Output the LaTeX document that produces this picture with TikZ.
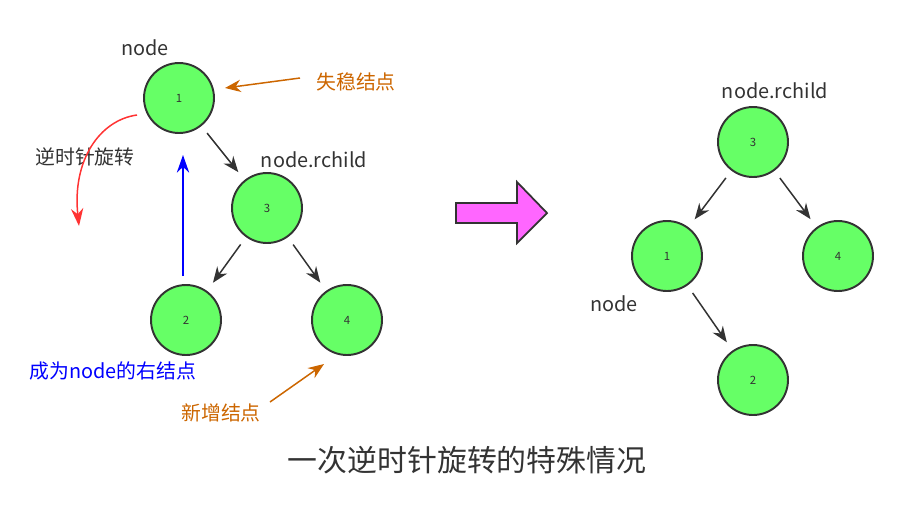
\documentclass[tikz,border=0pt]{standalone}
\usepackage{fontspec}
\setmainfont{Noto Sans CJK SC}
\usetikzlibrary{arrows.meta}
\definecolor{nodefill}{HTML}{66FF66}
\definecolor{darkline}{HTML}{333333}
\definecolor{noteorange}{HTML}{CC6600}
\definecolor{rotred}{HTML}{FF3333}
\definecolor{bigarrow}{HTML}{FF66FF}

\begin{document}
\begin{tikzpicture}[x=0.02cm, y=-0.02cm,
	treenode/.style={circle, draw=darkline, fill=nodefill, line width=1.1pt, minimum size=1.4cm, inner sep=0pt, text=darkline, font=\fontsize{6.5}{7}\selectfont},
	edge/.style={draw=darkline, line width=0.85pt, -{Stealth[length=9pt, width=7pt]}, shorten >=0.2cm, shorten <=0.18cm},
	note/.style={draw=noteorange, line width=0.85pt, -{Stealth[length=9pt, width=7pt]}},
	lbl/.style={text=darkline, font=\fontsize{11.3}{12}\selectfont, inner sep=0pt}]
	%%%%% START %%%%%
	\useasboundingbox (0, 0) rectangle (899, 525);

	% left tree
	\node[treenode] (l1) at (179, 98) {1};
	\node[treenode] (l3) at (267, 208) {3};
	\node[treenode] (l2) at (186, 320) {2};
	\node[treenode] (l4) at (347, 320) {4};
	\draw[edge] (l1) -- (l3);
	\draw[edge] (l3) -- (l2);
	\draw[edge] (l3) -- (l4);

	\node[lbl] (lnode) at (145, 48) {node};
	\node[lbl] (lrchild) at (314, 160) {node.rchild};

	% notes
	\node[lbl, text=noteorange] (unstable) at (356, 82) {失稳结点};
	\coordinate (unstabletail) at (300, 78);
	\draw[note] (unstabletail) -- (225, 88);

	\node[lbl, text=noteorange] (added) at (221, 413) {新增结点};
	\coordinate (addedtail) at (270, 402);
	\draw[note] (addedtail) -- (324, 364);

	\node[lbl, text=blue] (becomes) at (113, 371) {成为node的右结点};
	\coordinate (bluetail) at (183, 276);
	\coordinate (bluehead) at (183, 155);
	\draw[blue, line width=1.1pt, -{Stealth[length=10pt, width=7pt]}] (bluetail) -- (bluehead);

	\node[lbl] (rotate) at (85, 157) {逆时针旋转};
	\coordinate (rottail) at (137, 115);
	\coordinate (rothead) at (79, 226);
	\draw[rotred, line width=0.85pt, -{Stealth[length=10pt, width=7pt]}] (rottail) .. controls (100, 120) and (72, 160) .. (rothead);

	% big arrow
	\draw[darkline, fill=bigarrow, line width=1pt] (456, 203) -- (517, 203) -- (517, 182) -- (547, 213) -- (517, 243) -- (517, 223) -- (456, 223) -- cycle;

	% right tree
	\node[treenode] (r3) at (753, 142) {3};
	\node[treenode] (r1) at (667, 256) {1};
	\node[treenode] (r4) at (838, 256) {4};
	\node[treenode] (r2) at (753, 380) {2};
	\draw[edge] (r3) -- (r1);
	\draw[edge] (r3) -- (r4);
	\draw[edge] (r1) -- (r2);

	\node[lbl] (rrchild) at (775, 91) {node.rchild};
	\node[lbl] (rnode) at (614, 304) {node};

	% title
	\node[text=darkline, font=\fontsize{17}{18}\selectfont, inner sep=0pt] (title) at (467, 460) {一次逆时针旋转的特殊情况};
	%%%%% END %%%%%
\end{tikzpicture}
\end{document}
